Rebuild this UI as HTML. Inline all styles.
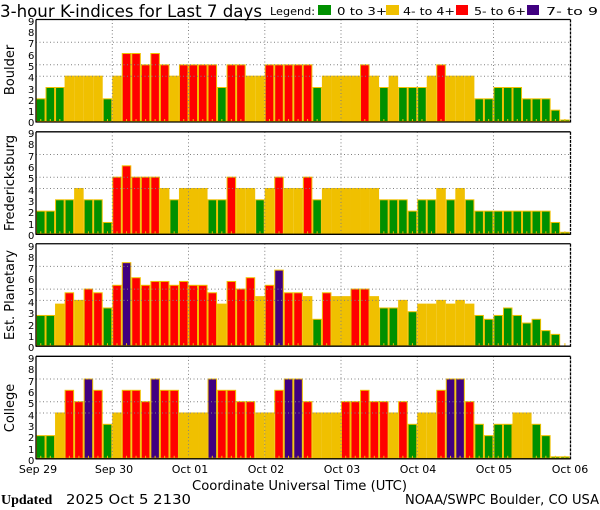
<!DOCTYPE html>
<html><head><meta charset="utf-8"><style>
html,body{margin:0;padding:0;background:#fff;width:600px;height:510px;overflow:hidden}
svg{display:block}
text{font-family:"DejaVu Sans","Liberation Sans",sans-serif;fill:#000}
</style></head><body>
<svg id="s" width="600" height="510" viewBox="0 0 600 510" xmlns="http://www.w3.org/2000/svg">
<text x="0" y="17" font-size="17" textLength="262" lengthAdjust="spacingAndGlyphs">3-hour K-indices for Last 7 days</text>
<text x="270" y="15" font-size="11" textLength="45" lengthAdjust="spacingAndGlyphs">Legend:</text>
<rect x="318" y="5" width="13" height="10" fill="#009000"/>
<text x="337" y="15" font-size="11" textLength="50" lengthAdjust="spacingAndGlyphs">0 to 3+</text>
<rect x="386" y="5" width="13" height="10" fill="#f0c000"/>
<text x="403" y="15" font-size="11" textLength="52" lengthAdjust="spacingAndGlyphs">4- to 4+</text>
<rect x="456" y="5" width="12" height="10" fill="#ff0000"/>
<text x="474" y="15" font-size="11" textLength="52" lengthAdjust="spacingAndGlyphs">5- to 6+</text>
<rect x="527" y="5" width="12" height="10" fill="#400080"/>
<text x="546" y="15" font-size="11" textLength="52" lengthAdjust="spacingAndGlyphs">7- to 9</text>
<g id="bars"></g>
<g font-size="10">
<text x="28" y="25">9</text><text x="28" y="36">8</text><text x="28" y="47">7</text><text x="28" y="59">6</text><text x="28" y="70">5</text><text x="28" y="81">4</text><text x="28" y="93">3</text><text x="28" y="104">2</text><text x="28" y="115">1</text><text x="28" y="126">0</text>
<text x="28" y="137">9</text><text x="28" y="148">8</text><text x="28" y="160">7</text><text x="28" y="171">6</text><text x="28" y="182">5</text><text x="28" y="194">4</text><text x="28" y="205">3</text><text x="28" y="216">2</text><text x="28" y="228">1</text><text x="28" y="239">0</text>
<text x="28" y="250">9</text><text x="28" y="261">8</text><text x="28" y="272">7</text><text x="28" y="283">6</text><text x="28" y="295">5</text><text x="28" y="306">4</text><text x="28" y="317">3</text><text x="28" y="329">2</text><text x="28" y="340">1</text><text x="28" y="351">0</text>
<text x="28" y="362">9</text><text x="28" y="373">8</text><text x="28" y="385">7</text><text x="28" y="396">6</text><text x="28" y="407">5</text><text x="28" y="419">4</text><text x="28" y="430">3</text><text x="28" y="441">2</text><text x="28" y="453">1</text><text x="28" y="464">0</text>
</g>
<g font-size="13">
<text transform="translate(14,70) rotate(-90)" text-anchor="middle">Boulder</text>
<text transform="translate(14,183) rotate(-90)" text-anchor="middle">Fredericksburg</text>
<text transform="translate(14,295) rotate(-90)" text-anchor="middle">Est. Planetary</text>
<text transform="translate(14,408) rotate(-90)" text-anchor="middle">College</text>
</g>
<g font-size="11" text-anchor="middle">
<text x="38" y="473">Sep 29</text><text x="114" y="473">Sep 30</text><text x="190" y="473">Oct 01</text><text x="266" y="473">Oct 02</text><text x="342" y="473">Oct 03</text><text x="418" y="473">Oct 04</text><text x="494" y="473">Oct 05</text><text x="570" y="473">Oct 06</text>
</g>
<text x="192" y="490" font-size="13" textLength="215" lengthAdjust="spacingAndGlyphs">Coordinate Universal Time (UTC)</text>
<text x="1" y="504" font-size="14" font-weight="bold" font-family="Liberation Serif,serif" style="font-family:'Liberation Serif',serif">Updated</text>
<text x="66" y="504" font-size="13" textLength="125" lengthAdjust="spacingAndGlyphs">2025 Oct  5 2130</text>
<text x="405" y="504" font-size="13" textLength="194" lengthAdjust="spacingAndGlyphs">NOAA/SWPC Boulder, CO USA</text>
</svg>
<script>
var data=[
[2,3,3,4,4,4,4,2,4,6,6,5,6,5,4,5,5,5,5,3,5,5,4,4,5,5,5,5,5,3,4,4,4,4,5,4,3,4,3,3,3,4,5,4,4,4,2,2,3,3,3,2,2,2,1,0],
[2,2,3,3,4,3,3,1,5,6,5,5,5,4,3,4,4,4,3,3,5,4,4,3,4,5,4,4,5,3,4,4,4,4,4,4,3,3,3,2,3,3,4,3,4,3,2,2,2,2,2,2,2,2,1,0],
[2.67,2.67,3.67,4.67,4,5,4.67,3.33,5.33,7.33,6,5.33,5.67,5.67,5.33,5.67,5.33,5.33,4.67,3.67,5.67,5,6,4.33,5.33,6.67,4.67,4.67,4.33,2.33,4.67,4.33,4.33,5,5,4.33,3.33,3.33,4,3,3.67,3.67,4,3.67,4,3.67,2.67,2.33,2.67,3.33,2.67,2,2.33,1.33,1,-1],
[2,2,4,6,5,7,6,3,4,6,6,5,7,6,6,4,4,4,7,6,6,5,5,4,4,6,7,7,5,4,4,4,5,5,6,5,5,4,5,3,4,4,6,7,7,5,3,2,3,3,4,4,3,2,0,0]];
var bottoms=[121.5,233.8,345.7,458.3],u=11.33,L=36,R=570.5,st=9.53;
var h='';
function col(v){return v<3.5?'#009000':v<4.5?'#f0c000':v<6.5?'#ff0000':'#400080';}
for(var p=0;p<4;p++){var b=bottoms[p],t=b-9*u;
 for(var i=0;i<56;i++){var v=data[p][i];var x=L+i*st;
  if(v>=0){var hh=v==0?1.5:v*u;
   h+='<rect x="'+(x+0.5).toFixed(2)+'" y="'+(b-hh).toFixed(2)+'" width="'+(st-1).toFixed(2)+'" height="'+hh.toFixed(2)+'" fill="'+col(v)+'" stroke="#f0c000" stroke-width="1"/>';}
  h+='<rect x="'+(x+st/2-0.5).toFixed(2)+'" y="'+(b-2.5)+'" width="1" height="2.5" fill="#f0c000"/>';
 }
 [4,5,7].forEach(function(k){var y=(b-k*u).toFixed(1);h+='<line x1="'+L+'" x2="'+R+'" y1="'+y+'" y2="'+y+'" stroke="#808080" stroke-dasharray="1,2.5"/>';});
 for(var d=1;d<7;d++){var x=(L+d*76.25).toFixed(1);h+='<line x1="'+x+'" x2="'+x+'" y1="'+t+'" y2="'+b+'" stroke="#808080" stroke-dasharray="1,2.5"/>';}
 h+='<line x1="'+L+'" x2="'+R+'" y1="'+t+'" y2="'+t+'" stroke="#000" stroke-width="1.3"/>';
 h+='<line x1="'+L+'" x2="'+R+'" y1="'+(b+0.5)+'" y2="'+(b+0.5)+'" stroke="#000" stroke-width="1.3"/>';
 h+='<line x1="'+L+'" x2="'+L+'" y1="'+t+'" y2="'+(b+1)+'" stroke="#000" stroke-width="1.3"/>';
 h+='<line x1="'+R+'" x2="'+R+'" y1="'+t+'" y2="'+(b+1)+'" stroke="#000" stroke-width="1.3" stroke-dasharray="3,1"/>';
}
document.getElementById('bars').innerHTML=h;
</script>
</body></html>
